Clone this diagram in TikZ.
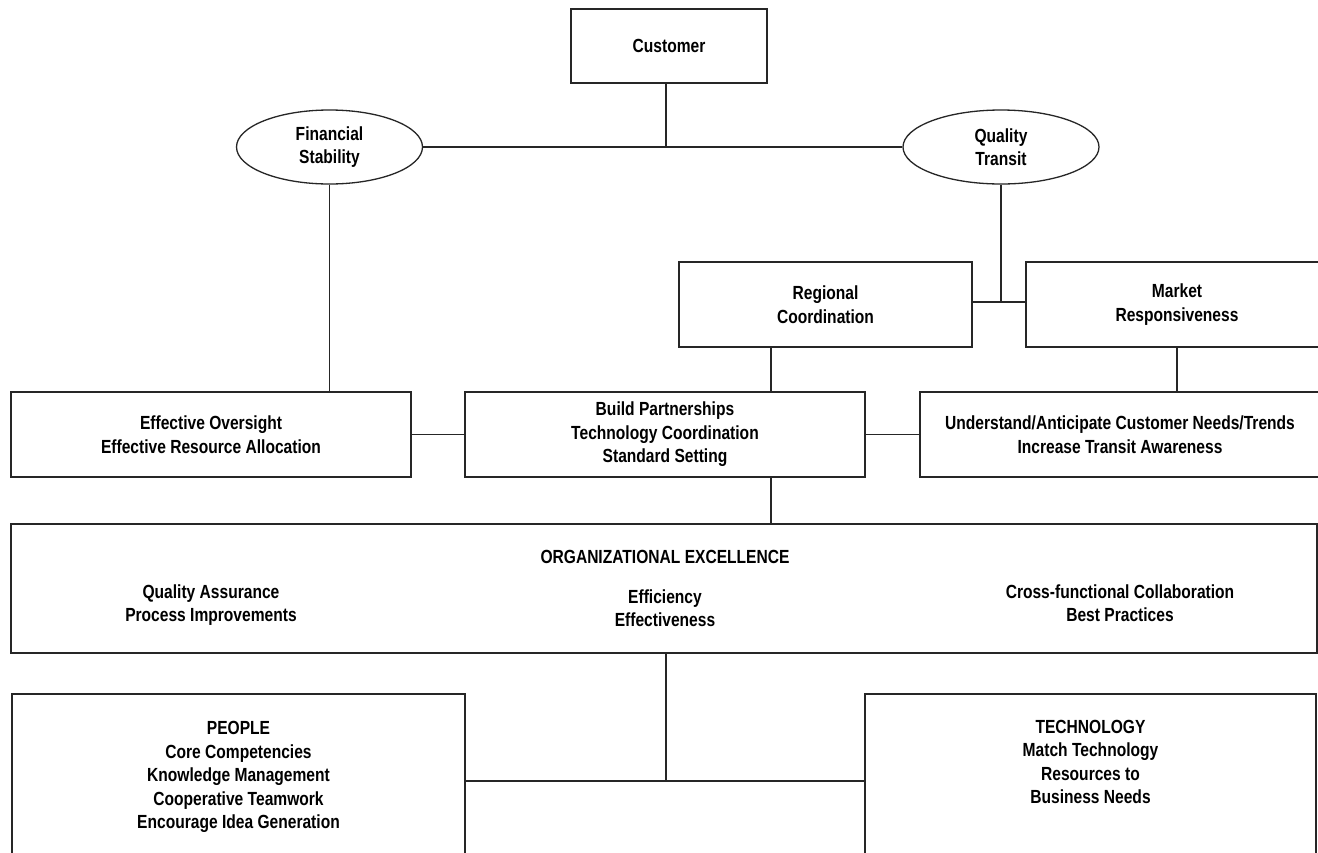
\documentclass[tikz,border=0pt]{standalone}
\usepackage{fontspec}
\setmainfont{Liberation Sans}[FakeStretch=0.82]
\usetikzlibrary{shapes.geometric}
\begin{document}
\begin{tikzpicture}[x=1pt,y=-1pt,
  every node/.style={font=\fontsize{19}{23.5}\selectfont\bfseries, align=center, inner sep=0pt},
  box/.style={draw=black!85, line width=1.3pt, rectangle},
  oval/.style={draw=black!85, line width=1.3pt, ellipse},
  conn/.style={draw=black!85, line width=1.3pt}]
\clip (0,0) rectangle (1318,852);
\fill[white] (0,0) rectangle (1318,852);
% nodes
\node[box, minimum width=196pt, minimum height=74pt] (cust) at (669,46) {Customer};
\node[oval, minimum width=186pt, minimum height=74pt] (fin) at (329.5,147) {Financial\\Stability};
\node[oval, minimum width=196pt, minimum height=74pt] (qual) at (1001,147) {Quality\\Transit};
\node[box, minimum width=293pt, minimum height=85pt] (reg) at (825.5,304.5) {Regional\\Coordination};
\node[box, minimum width=302pt, minimum height=85pt] (mkt) at (1177,304.5) {Market\\Responsiveness};
\node[box, minimum width=400pt, minimum height=85pt] (ovs) at (211,434.5) {Effective Oversight\\Effective Resource Allocation};
\node[box, minimum width=400pt, minimum height=85pt] (bld) at (665,434.5) {Build Partnerships\\Technology Coordination\\Standard Setting};
\node[box, minimum width=400pt, minimum height=85pt] (und) at (1120,434.5) {Understand/Anticipate Customer Needs/Trends\\Increase Transit Awareness};
\node[box, minimum width=1306pt, minimum height=129pt] (org) at (664,588.5) {};
\node (orgt) at (665,557) {ORGANIZATIONAL EXCELLENCE};
\node (orgl) at (211,605) {Quality Assurance\\Process Improvements};
\node (orgm) at (665,608) {Efficiency\\Effectiveness};
\node (orgr) at (1120,603) {Cross-functional Collaboration\\Best Practices};
\node[box, minimum width=453pt, minimum height=166pt] (ppl) at (238.5,777) {PEOPLE\\Core Competencies\\Knowledge Management\\Cooperative Teamwork\\Encourage Idea Generation};
\node[box, minimum width=451pt, minimum height=166pt] (tech) at (1090.5,777) {TECHNOLOGY\\Match Technology\\Resources to\\Business Needs\\\strut};
% junctions
\coordinate (j1) at (666,148);
\coordinate (j2) at (1001,302);
\coordinate (c1) at (771,0);
\coordinate (j3) at (666,781);
% connectors
\draw[conn] (j1 |- cust.south) -- (j1);
\draw[conn] (fin.east) -- (qual.west);
\draw[conn] (fin.south) -- (fin.south |- ovs.north);
\draw[conn] (qual.south) -- (j2);
\draw[conn] (reg.east |- j2) -- (mkt.west |- j2);
\draw[conn] (c1 |- reg.south) -- (c1 |- bld.north);
\draw[conn] (mkt.south) -- (mkt.south |- und.north);
\draw[conn] (ovs.east) -- (bld.west);
\draw[conn] (bld.east) -- (und.west);
\draw[conn] (c1 |- bld.south) -- (c1 |- org.north);
\draw[conn] (j3 |- org.south) -- (j3);
\draw[conn] (ppl.east |- j3) -- (tech.west |- j3);
\end{tikzpicture}
\end{document}
